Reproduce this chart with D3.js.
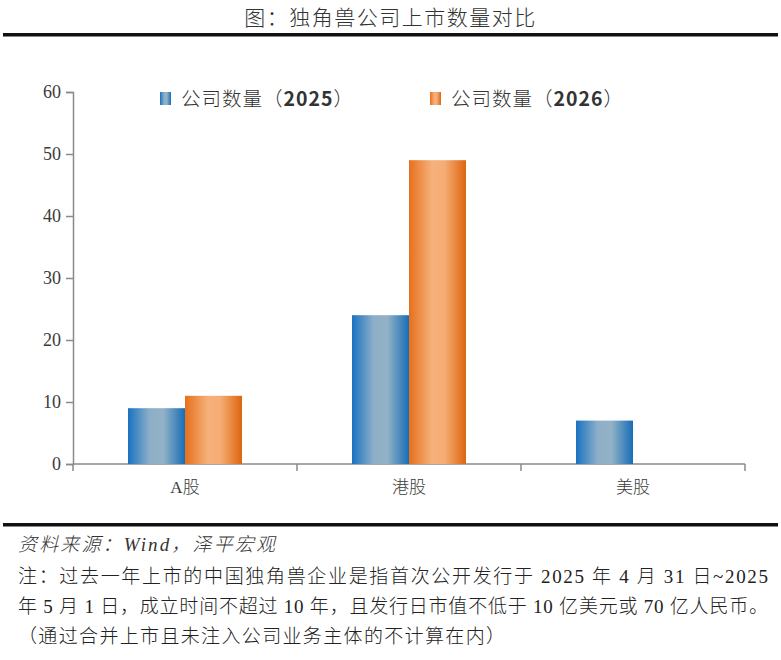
<!DOCTYPE html>
<html>
<head>
<meta charset="utf-8">
<script src="https://cdn.jsdelivr.net/npm/d3@7"></script>
<style>
  body { margin: 0; background: #fff; }
  svg { display: block; }
  .axis path, .axis line { stroke: #8a8a8a; stroke-width: 1.5; }
  .axis text { fill: #3a3a3a; }
</style>
</head>
<body>
<div id="chart"></div>
<script>
// data
const markets = ["A股", "港股", "美股"];
const series = ["公司数量（2025）", "公司数量（2026）"];
const years = ["2025", "2026"];
const count2025 = [9, 24, 7];
const count2026 = [11, 49, null];
const yTicks = [0, 10, 20, 30, 40, 50, 60];

const titleText = "图：独角兽公司上市数量对比";
const sourceText = "资料来源：Wind，泽平宏观";
const noteLines = [
    "注：过去一年上市的中国独角兽企业是指首次公开发行于 2025 年 4 月 31 日~2025",
    "年 5 月 1 日，成立时间不超过 10 年，且发行日市值不低于 10 亿美元或 70 亿人民币。",
    "（通过合并上市且未注入公司业务主体的不计算在内）"
];

const W = 781, H = 660;
const cjk = "'Liberation Serif', 'Noto Sans CJK SC', serif";

const svg = d3.select("#chart").append("svg")
    .attr("width", W)
    .attr("height", H);

// gradients for the bars
const defs = svg.append("defs");
const grads = [
    {id: "g2025", stops: [["0%", "#1a72c0"], ["38%", "#8cafc8"], ["62%", "#93b2c6"], ["100%", "#166db8"]]},
    {id: "g2026", stops: [["0%", "#e6701c"], ["40%", "#f6b07a"], ["62%", "#f5ad75"], ["100%", "#df650f"]]}
];
grads.forEach(g => {
    const lg = defs.append("linearGradient").attr("id", g.id)
        .attr("x1", "0%").attr("x2", "100%").attr("y1", "0%").attr("y2", "0%");
    g.stops.forEach(s => lg.append("stop").attr("offset", s[0]).attr("stop-color", s[1]));
});

// title + rules
svg.append("text")
    .attr("x", W / 2).attr("y", 25)
    .attr("text-anchor", "middle")
    .style("font-family", cjk)
    .style("font-size", "21px")
    .style("font-weight", 300)
    .style("letter-spacing", "1.5px")
    .style("fill", "#333")
    .text(titleText);

svg.append("rect").attr("x", 3).attr("y", 33).attr("width", W - 6).attr("height", 3.5).attr("fill", "#111");
svg.append("rect").attr("x", 3).attr("y", 523).attr("width", W - 6).attr("height", 3.5).attr("fill", "#111");

// scales
const x0 = d3.scaleBand().domain(markets).range([73, 745]).padding(0);
const x1 = d3.scaleBand().domain(years).range([0, x0.bandwidth()]).paddingInner(0).paddingOuter(0.965);
const y = d3.scaleLinear().domain([0, 60]).range([464, 92]);

// y axis
const yAxis = svg.append("g")
    .attr("class", "axis")
    .attr("transform", "translate(73,0)")
    .call(d3.axisLeft(y).tickValues(yTicks).tickSize(7).tickPadding(5));
yAxis.attr("font-family", "Liberation Serif");
yAxis.selectAll("text")
    .style("font-family", "'Liberation Serif', serif")
    .style("font-size", "18px");

// x axis (ticks at band edges)
const xAxis = svg.append("g")
    .attr("class", "axis")
    .attr("transform", "translate(0,464)");
xAxis.append("line")
    .attr("x1", x0.range()[0]).attr("x2", x0.range()[1]);
const edges = markets.map(m => x0(m)).concat([x0.range()[1]]);
xAxis.selectAll(".edge").data(edges).enter().append("line")
    .attr("class", "edge")
    .attr("x1", d => d).attr("x2", d => d)
    .attr("y1", 0).attr("y2", 7);
xAxis.selectAll(".cat").data(markets).enter().append("text")
    .attr("class", "cat")
    .attr("x", d => x0(d) + x0.bandwidth() / 2)
    .attr("y", 29)
    .attr("text-anchor", "middle")
    .style("font-family", cjk)
    .style("font-size", "17px")
    .style("font-weight", 300)
    .text(d => d);

// bars
const rows = markets.map((m, i) => ({market: m, values: [count2025[i], count2026[i]]}));
const groups = svg.selectAll(".grp").data(rows).enter().append("g")
    .attr("class", "grp")
    .attr("transform", d => `translate(${x0(d.market)},0)`);

groups.selectAll("rect")
    .data(d => d.values.map((v, j) => ({year: years[j], value: v})).filter(e => e.value != null))
    .enter().append("rect")
    .attr("x", d => x1(d.year))
    .attr("y", d => y(d.value))
    .attr("width", x1.bandwidth())
    .attr("height", d => y(0) - y(d.value))
    .attr("fill", d => `url(#g${d.year})`);

// legend
const legendX = [160, 430];
const legend = svg.selectAll(".leg").data(series).enter().append("g")
    .attr("class", "leg")
    .attr("transform", (d, i) => `translate(${legendX[i]},92)`);
legend.append("rect")
    .attr("width", 11).attr("height", 13)
    .attr("fill", (d, i) => `url(#g${years[i]})`);
const lt = legend.append("text")
    .attr("x", 21).attr("y", 14)
    .style("font-family", "'Noto Sans CJK SC', sans-serif")
    .style("font-size", "19.5px")
    .style("letter-spacing", "1px")
    .style("fill", "#333");
lt.append("tspan").style("font-weight", 300).text("公司数量（");
lt.append("tspan").style("font-weight", "bold").text((d, i) => years[i]);
lt.append("tspan").style("font-weight", 300).text("）");

// source and notes
svg.append("text")
    .attr("x", 18).attr("y", 551)
    .attr("textLength", 257)
    .attr("lengthAdjust", "spacing")
    .style("font-family", cjk)
    .style("font-style", "italic")
    .style("font-size", "19px")
    .style("font-weight", 300)
    .style("fill", "#333")
    .text(sourceText);

svg.selectAll(".note").data(noteLines).enter().append("text")
    .attr("class", "note")
    .attr("x", 18)
    .attr("y", (d, i) => 583 + i * 30)
    .attr("textLength", (d, i) => i < 2 ? 750 : 487)
    .attr("lengthAdjust", "spacing")
    .style("font-family", cjk)
    .style("font-size", "19px")
    .style("font-weight", 300)
    .style("fill", "#222")
    .text(d => d);
</script>
</body>
</html>
